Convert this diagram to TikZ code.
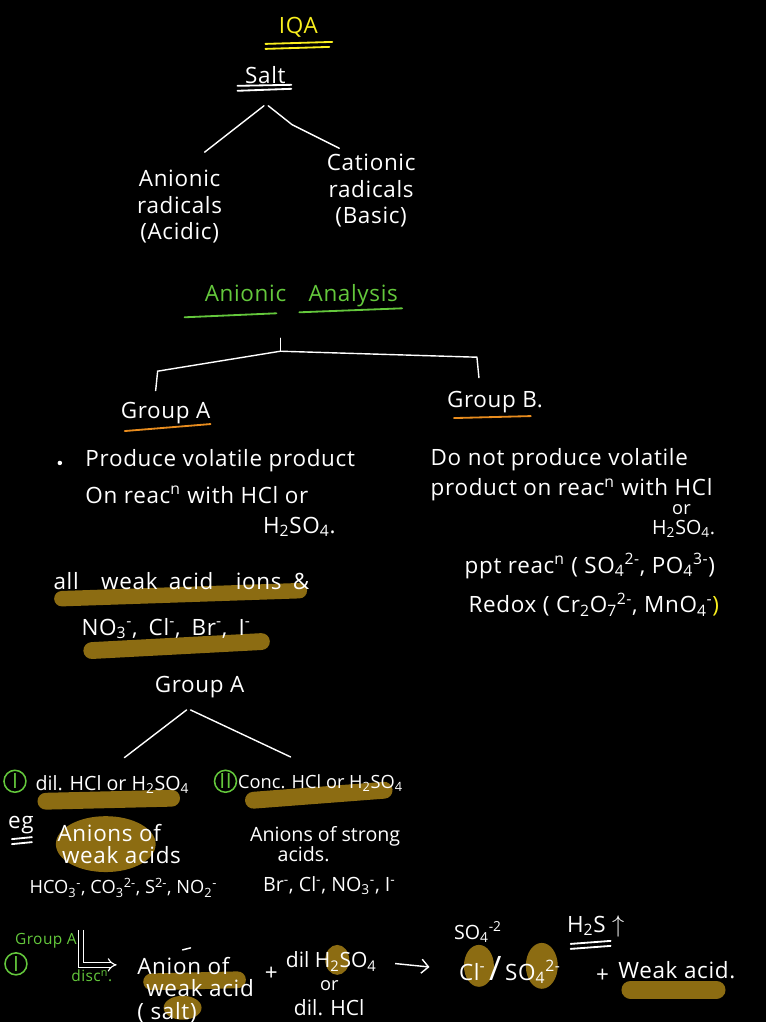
\documentclass[tikz,border=0pt]{standalone}
\usepackage{fontspec}
\setmainfont{Open Sans}[LetterSpace=3]
\usetikzlibrary{
  arrows.meta,
  positioning,
  calc
}
\definecolor{hilite}{RGB}{140,108,18}
\definecolor{chalkgreen}{RGB}{100,200,60}
\definecolor{chalkyellow}{RGB}{250,240,30}
\definecolor{chalkorange}{RGB}{232,140,30}
\newcommand{\ionof}[2]{\textsubscript{#1}\textsuperscript{#2}}

\begin{document}
\begin{tikzpicture}[
  x=0.025cm, y=-0.025cm,
  note/.style={
    text=#1,
    font=\fontsize{16}{19}\selectfont,
    align=center,
    inner sep=1pt,
  },
  note/.default=white,
  leftnote/.style={
    note=#1,
    align=left,
    anchor=west,
  },
  leftnote/.default=white,
  compact/.style={
    font=\fontsize{#1}{#1}\selectfont\addfontfeature{LetterSpace=0},
  },
  compact/.default=13,
  small/.style={
    text=#1,
    font=\fontsize{11}{13}\selectfont,
    inner sep=1pt,
  },
  small/.default=white,
  branch/.style={white, line width=1pt, line cap=round},
  uline/.style={#1, line width=1.3pt, line cap=round},
  marker/.style={hilite, line width=#1, line cap=round},
  marker/.default=11pt,
  blob/.style={fill=hilite, draw=none},
  num/.style={
    circle,
    draw=chalkgreen,
    text=chalkgreen,
    line width=1.1pt,
    inner sep=0pt,
    minimum size=0.55cm,
    font=\fontsize{15}{15}\selectfont,
  },
  dblarrow/.style={
    white, double=black, double distance=2.5pt,
    line width=0.8pt, -{Implies}
  },
]

% ── Board ──
\fill[black] (0,0) rectangle (768,1024);

% ── Highlights (under the text) ──
\draw[marker] (62,600) -- (300,592);
\draw[marker=12pt] (92,652) -- (262,643);
\draw[marker=12pt] (46,803) -- (172,800);
\draw[marker=12pt] (254,802) -- (385,792);
\fill[blob] (106,846) ellipse (50 and 28);
\draw[marker=12pt] (152,984) -- (238,982);
\fill[blob] (183,1010) ellipse (19 and 12);
\fill[blob] (338,962) ellipse (12 and 15);
\fill[blob] (480,968) ellipse (15 and 21);
\fill[blob] (543,968) ellipse (16 and 23);
\draw[marker=13pt] (632,992) -- (718,992);

% ── Title ──
\node[note=chalkyellow] (iqa) at (299,27) {IQA};
\draw[uline=chalkyellow] (266,44) -- (333,42);
\draw[uline=chalkyellow] (266,49) -- (330,47);

% ── Salt and its two radicals ──
\node[note] (salt) at (266,75) {Salt};
\draw[uline=white] (238,86) -- (292,85);
\draw[uline=white] (238,91) -- (292,89);

\node[note] (anion) at (180,207) {Anionic\\radicals\\(Acidic)};
\node[note] (cation) at (372,191) {Cationic\\radicals\\(Basic)};

\coordinate (saltfoot) at (266,106);
\draw[branch] ([xshift=-1pt]saltfoot) -- ([shift={(25,-16)}]anion.north);
\draw[branch] ([xshift=2pt]saltfoot) -- ++(24,19) -- ([shift={(-32,-4)}]cation.north);

% ── Anionic analysis ──
\node[note=chalkgreen] (analysis) at (302,296) {Anionic\quad Analysis};
\draw[uline=chalkgreen] (185,318) -- (277,314);
\draw[uline=chalkgreen] (300,313) -- (403,309);

\node[note] (groupa) at (166,414) {Group A};
\node[note] (groupb) at (496,403) {Group B.};
\draw[uline=chalkorange] (125,432) -- (211,425);
\draw[uline=chalkorange] (455,419) -- (532,417);

\coordinate (split) at (281,352);
\draw[branch] (split) -- ++(0,-13);
\draw[branch] (split) -- ++(-123,20) -- ([shift={(-10,-10)}]groupa.north);
\draw[branch] (split) -- ++(197,6) -- ([shift={(-16,-12)}]groupb.north);

% ── Group A: volatile product ──
\fill[white] (60,464) circle (1.6pt);
\node[leftnote] (volA1) at (84,462) {Produce volatile product};
\node[leftnote] (volA2) at (84,496) {On reac\textsuperscript{n} with HCl or};
\node[leftnote] (volA3) at (262,528) {H\textsubscript{2}SO\textsubscript{4}.};

% ── Group B: no volatile product ──
\node[leftnote] (volB1) at (430,461) {Do not produce volatile};
\node[leftnote] (volB2) at (430,491) {product on reac\textsuperscript{n} with HCl};
\node[note, compact=13] (volB3) at (683,511) {or};
\node[leftnote, compact=14] (volB4) at (652,530) {H\textsubscript{2}SO\textsubscript{4}.};

\node[leftnote] (ppt) at (464,567)
  {ppt reac\textsuperscript{n} ( SO\ionof{4}{2-}, PO\ionof{4}{3-})};
\node[leftnote] (redox) at (468,606)
  {Redox ( Cr\textsubscript{2}O\ionof{7}{2-}, MnO\ionof{4}{-}\textcolor{chalkyellow}{)}};

% ── Ions in group A ──
\node[leftnote] (weakions) at (52,582) {all\quad weak\enspace acid\quad ions\enspace\&};
\node[leftnote] (strongions) at (80,630) {NO\ionof{3}{-},\enspace Cl\textsuperscript{-},\enspace Br\textsuperscript{-},\enspace I\textsuperscript{-}};

\node[note] (groupa2) at (200,689) {Group A};

% ── Dilute / concentrated acid ──
\node[num] (one) at (15,783) {I};
\node[leftnote, compact=14] (dil) at (34,786) {dil. HCl or H\textsubscript{2}SO\textsubscript{4}};
\node[num] (two) at (226,783) {II};
\node[leftnote, compact] (conc) at (237,785) {Conc. HCl or H\textsubscript{2}SO\textsubscript{4}};

\draw[branch] ([shift={(-13,10)}]groupa2.south) -- ([shift={(12,-16)}]dil.north);
\draw[branch] ([shift={(-9,10)}]groupa2.south) -- ([shift={(-30,-16)}]conc.north);

\node[note] (eg) at (21,827) {eg};
\draw[uline=white] (12,841) -- (32,839);
\draw[uline=white] (12,846) -- (32,844);

\node[leftnote, font=\fontsize{16}{16}\selectfont] (weakanions) at (56,846) {Anions of\\\hspace*{0.2em}weak acids};
\node[leftnote, compact=14] (stronganions) at (249,846) {Anions of strong\\\hspace*{1.4em}acids.};

\node[leftnote, compact] (weaklist) at (28,890)
  {HCO\ionof{3}{-}, CO\ionof{3}{2-}, S\textsuperscript{2-}, NO\ionof{2}{-}};
\node[leftnote, compact=14] (stronglist) at (262,888)
  {Br\textsuperscript{-}, Cl\textsuperscript{-}, NO\ionof{3}{-}, I\textsuperscript{-}};

% ── Group A (I): discussion ──
\node[small=chalkgreen] (grpnote) at (46,943) {Group A};
\node[num] (three) at (16,966) {I};
\node[small=chalkgreen] (disc) at (92,978) {disc\textsuperscript{n}.};

\node[leftnote, font=\fontsize{16}{16}\selectfont] (saltanion) at (136,992)
  {Anion of\\\hspace*{0.4em}weak acid\\( salt)};
\draw[branch] (183,952) -- (191,950);

\coordinate (dtop) at (81,932);
\coordinate (dend) at (117,967);
\draw[dblarrow] (dtop) |- (dend);

\node[note] (plus1) at (272,976) {+};
\node[note, compact=15] (dilacid) at (332,964) {dil H\textsubscript{2}SO\textsubscript{4}};
\node[note, compact=13] (oracid) at (330,988) {or};
\node[note, compact=15] (hclacid) at (330,1010) {dil. HCl};

\node[note] (products) at (511,972) {Cl\textsuperscript{-}\,{\fontsize{24}{24}\selectfont /}\,SO\ionof{4}{2-}};
\node[note, compact=14] (so4top) at (479,934) {SO\ionof{4}{-2}};
\draw[-{Straight Barb[length=5pt]}, white, line width=1pt, shorten <=12pt, shorten >=20pt]
  (dilacid.east) -- (products.west);

\node[note] (h2s) at (597,928) {H\textsubscript{2}S $\uparrow$};
\draw[uline=white] (572,946) -- (612,943);
\draw[uline=white] (572,951) -- (612,948);

\node[note] (plus2) at (604,978) {+};
\node[leftnote] (weakacid) at (618,972) {Weak acid.};

\end{tikzpicture}
\end{document}
